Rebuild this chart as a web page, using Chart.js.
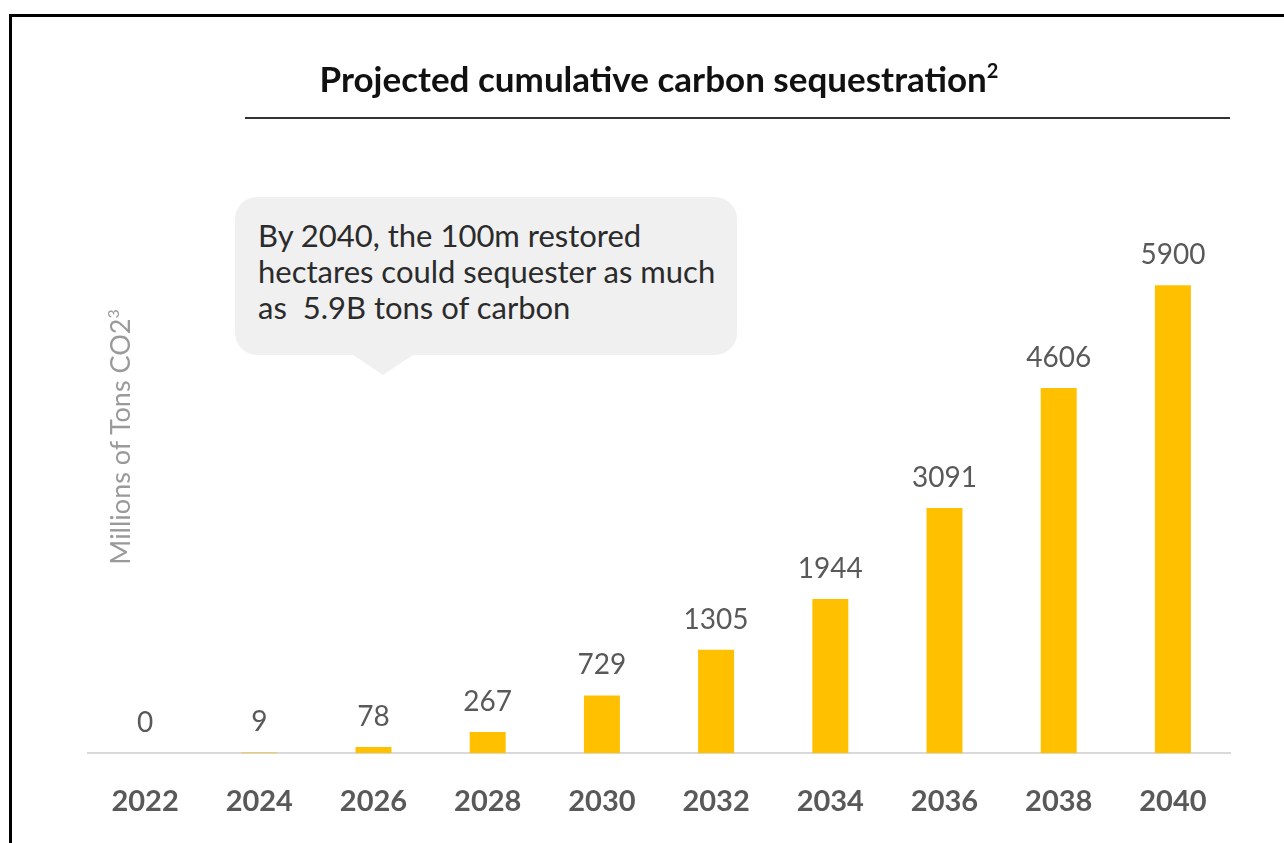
<!DOCTYPE html>
<html lang="en">
<head>
    <meta charset="UTF-8">
    <title>Projected cumulative carbon sequestration</title>
    <style>
        html, body { margin: 0; background: #fff; overflow: hidden; font-family: Lato, "Open Sans", sans-serif; }
        .page { position: relative; width: 1284px; height: 843px; overflow: hidden; }
        .frame {
            position: absolute; left: 9px; top: 14px; right: -10px; bottom: -10px;
            border-left: 3px solid #000; border-top: 3px solid #000;
        }
        .title {
            position: absolute; left: 259px; width: 800px; top: 57px;
            text-align: center; font-weight: bold; font-size: 35px; color: #111;
        }
        .title sup { font-size: 20px; vertical-align: 14px; line-height: 0; }
        .rule { position: absolute; left: 245px; width: 985px; top: 117px; height: 2px; background: #333; }
        .callout {
            position: absolute; left: 235px; top: 197px; width: 502px; height: 158px;
            background: #f0f0f0; border-radius: 22px; box-sizing: border-box;
            padding: 20px 0 0 23px; font-size: 31px; line-height: 36px; color: #2b2b2b;
        }
        .callout:after {
            content: ""; position: absolute; left: 118px; top: 158px;
            border-top: 20px solid #f0f0f0; border-left: 30px solid transparent; border-right: 30px solid transparent;
        }
        .ytitle {
            position: absolute; left: 119px; top: 437px; white-space: nowrap;
            transform: translate(-50%, -50%) rotate(-90deg);
            font-size: 27px; color: #9a9a9a;
        }
        .ytitle sup { font-size: 16px; vertical-align: 11px; line-height: 0; }
        #chart { position: absolute; left: 0; top: 0; }
    </style>
    <script src="https://cdn.jsdelivr.net/npm/chart.js"></script>
</head>
<body>
<div class="page">
    <canvas id="chart" width="1284" height="850"></canvas>
    <div class="frame"></div>
    <div class="title">Projected cumulative carbon sequestration<sup>2</sup></div>
    <div class="rule"></div>
    <div class="callout">By 2040, the 100m restored<br>hectares could sequester as much<br>as&nbsp; 5.9B tons of carbon</div>
    <div class="ytitle">Millions of Tons CO2<sup>3</sup></div>
</div>

<script>
    // Data
    const years = ['2022', '2024', '2026', '2028', '2030', '2032', '2034', '2036', '2038', '2040'];
    const sequestration = [0, 9, 78, 267, 729, 1305, 1944, 3091, 4606, 5900];

    // Value labels above each bar
    const valueLabels = {
        id: 'valueLabels',
        afterDatasetsDraw(chart) {
            const ctx = chart.ctx;
            const meta = chart.getDatasetMeta(0);
            ctx.save();
            ctx.font = '28px Lato, "Open Sans", sans-serif';
            ctx.fillStyle = '#595959';
            ctx.textAlign = 'center';
            ctx.textBaseline = 'alphabetic';
            meta.data.forEach((bar, i) => {
                ctx.fillText(String(sequestration[i]), bar.x, bar.y - 21);
            });
            ctx.restore();
        }
    };

    new Chart(document.getElementById('chart').getContext('2d'), {
        type: 'bar',
        data: {
            labels: years,
            datasets: [{
                data: sequestration,
                backgroundColor: '#FFC000',
                borderWidth: 0,
                categoryPercentage: 1,
                barPercentage: 0.315
            }]
        },
        options: {
            responsive: false,
            animation: false,
            layout: { padding: { left: 88, right: 54, top: 198, bottom: 0 } },
            plugins: { legend: { display: false }, tooltip: { enabled: false } },
            scales: {
                x: {
                    grid: { display: false, drawTicks: false },
                    border: { display: true, color: '#d9d9d9', width: 2 },
                    ticks: {
                        padding: 31,
                        color: '#595959',
                        font: { family: 'Lato, "Open Sans", sans-serif', size: 29, weight: 'bold' }
                    }
                },
                y: {
                    display: false,
                    min: 0,
                    max: 7000
                }
            }
        },
        plugins: [valueLabels]
    });
</script>
</body>
</html>
